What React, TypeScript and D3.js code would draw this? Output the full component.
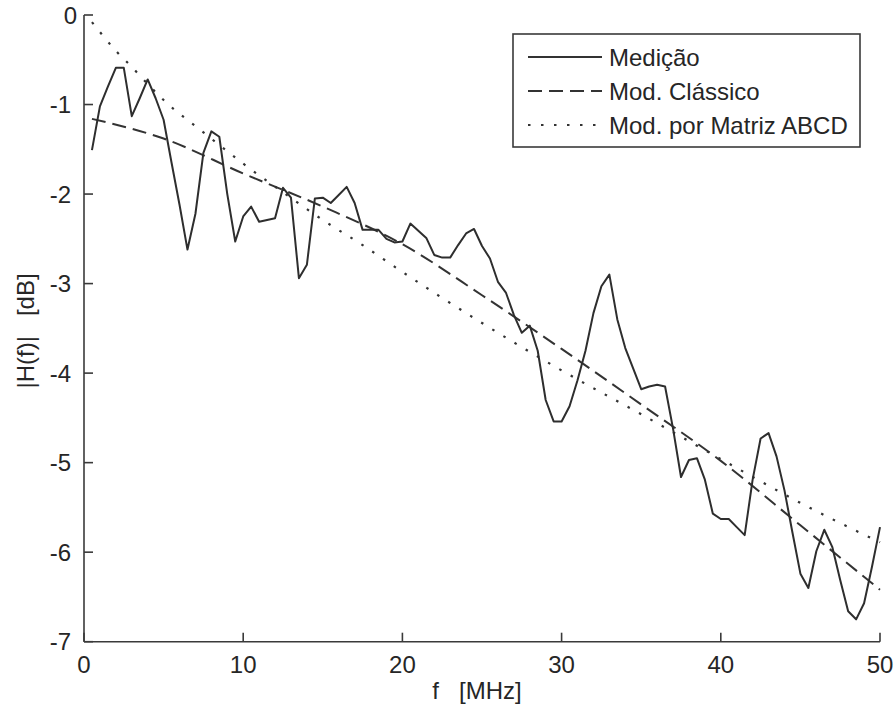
import React from 'react';
import * as d3 from 'd3';

// ---- Data ----
const measuredFreq = [
  0.5, 1, 1.5, 2, 2.5, 3, 3.5, 4, 4.5, 5, 5.5, 6, 6.5, 7, 7.5, 8, 8.5, 9, 9.5, 10,
  10.5, 11, 11.5, 12, 12.5, 13, 13.5, 14, 14.5, 15, 15.5, 16, 16.5, 17, 17.5, 18, 18.5, 19, 19.5, 20,
  20.5, 21, 21.5, 22, 22.5, 23, 23.5, 24, 24.5, 25, 25.5, 26, 26.5, 27, 27.5, 28, 28.5, 29, 29.5, 30,
  30.5, 31, 31.5, 32, 32.5, 33, 33.5, 34, 34.5, 35, 35.5, 36, 36.5, 37, 37.5, 38, 38.5, 39, 39.5, 40,
  40.5, 41, 41.5, 42, 42.5, 43, 43.5, 44, 44.5, 45, 45.5, 46, 46.5, 47, 47.5, 48, 48.5, 49, 49.5, 50,
];
const measuredDb = [
  -1.51, -1.02, -0.8, -0.59, -0.59, -1.13, -0.93, -0.72, -0.93, -1.17, -1.65, -2.12, -2.62, -2.22, -1.54, -1.3, -1.36, -2.0, -2.53, -2.25,
  -2.14, -2.31, -2.29, -2.27, -1.93, -2.04, -2.94, -2.79, -2.05, -2.04, -2.1, -2.01, -1.92, -2.1, -2.4, -2.4, -2.4, -2.5, -2.54, -2.53,
  -2.33, -2.41, -2.49, -2.68, -2.71, -2.71, -2.57, -2.44, -2.39, -2.58, -2.72, -2.98, -3.1, -3.35, -3.55, -3.47, -3.75, -4.3, -4.54, -4.54,
  -4.37, -4.08, -3.75, -3.33, -3.03, -2.9, -3.4, -3.72, -3.95, -4.18, -4.15, -4.13, -4.15, -4.62, -5.16, -4.97, -4.95, -5.19, -5.57, -5.63,
  -5.63, -5.72, -5.81, -5.19, -4.73, -4.67, -4.93, -5.31, -5.78, -6.24, -6.4, -5.99, -5.75, -5.94, -6.31, -6.66, -6.75, -6.57, -6.16, -5.72,
];

const classicFreq = [0.5, 5, 10, 15, 20, 25, 30, 35, 40, 45, 50];
const classicDb = [-1.16, -1.38, -1.77, -2.14, -2.56, -3.13, -3.73, -4.35, -4.98, -5.7, -6.42];

const abcdFreq = [0.5, 1, 2, 3, 4, 5, 7.5, 10, 12.5, 15, 17.5, 20, 25, 30, 35, 40, 45, 50];
const abcdDb = [-0.08, -0.19, -0.4, -0.58, -0.77, -0.95, -1.31, -1.66, -1.98, -2.29, -2.57, -2.87, -3.44, -3.97, -4.46, -4.96, -5.45, -5.89];

const xTicks = [0, 10, 20, 30, 40, 50];
const yTicks = [0, -1, -2, -3, -4, -5, -6, -7];
const legendLabels = ['Medição', 'Mod. Clássico', 'Mod. por Matriz ABCD'];
const xLabel = 'f   [MHz]';
const yLabel = '|H(f)|   [dB]';

// ---- Layout ----
const W = 896;
const H = 708;
const X0 = 84;
const X1 = 880;
const Y0 = 641.7;
const Y1 = 15;
const FONT = "'Liberation Sans', Arial, Helvetica, sans-serif";
const INK = '#262626';
const AXIS = '#3a3a3a';
const FS = 24;

const dashStyles = ['none', '14,7', '2.5,10.5'];

export default function App() {
  const x = d3.scaleLinear().domain([0, 50]).range([X0, X1]);
  const y = d3.scaleLinear().domain([-7, 0]).range([Y0, Y1]);

  const lin = d3
    .line<[number, number]>()
    .x((d) => x(d[0]))
    .y((d) => y(d[1]));
  const smooth = d3
    .line<[number, number]>()
    .x((d) => x(d[0]))
    .y((d) => y(d[1]))
    .curve(d3.curveMonotoneX);

  const measured = lin(measuredFreq.map((f, i) => [f, measuredDb[i]] as [number, number])) || '';
  const classic = smooth(classicFreq.map((f, i) => [f, classicDb[i]] as [number, number])) || '';
  const abcd = smooth(abcdFreq.map((f, i) => [f, abcdDb[i]] as [number, number])) || '';

  const legX = 513;
  const legY = 34;
  const legW = 347;
  const legH = 113;
  const rowY = [57, 91, 125];

  return (
    <svg
      width={W}
      height={H}
      viewBox={`0 0 ${W} ${H}`}
      style={{ position: 'absolute', left: 0, top: 0, background: '#fff' }}
      fontFamily={FONT}
    >
      <rect x={0} y={0} width={W} height={H} fill="#fff" />

      {/* data lines */}
      <path d={abcd} fill="none" stroke="#333" strokeWidth={2.2} strokeDasharray={dashStyles[2]} />
      <path d={classic} fill="none" stroke="#333" strokeWidth={2} strokeDasharray={dashStyles[1]} />
      <path d={measured} fill="none" stroke="#2e2e2e" strokeWidth={2} strokeLinejoin="round" />

      {/* axes */}
      <line x1={X0} y1={Y1} x2={X0} y2={Y0} stroke={AXIS} strokeWidth={1.6} />
      <line x1={X0} y1={Y0} x2={X1} y2={Y0} stroke={AXIS} strokeWidth={1.6} />
      {yTicks.map((t, i) => (
        <g key={'y' + t}>
          <line x1={X0} x2={X0 + 9} y1={y(t)} y2={y(t)} stroke={AXIS} strokeWidth={1.6} />
          <text
            x={i === 0 ? 77 : 71}
            y={y(t)}
            dy="0.36em"
            textAnchor="end"
            fontSize={FS}
            fill={INK}
          >
            {t}
          </text>
        </g>
      ))}
      {xTicks.map((t) => (
        <g key={'x' + t}>
          <line x1={x(t)} x2={x(t)} y1={Y0} y2={Y0 - 9} stroke={AXIS} strokeWidth={1.6} />
          <text x={x(t)} y={673} textAnchor="middle" fontSize={FS} fill={INK}>
            {t}
          </text>
        </g>
      ))}

      {/* axis labels */}
      <text
        x={477}
        y={699}
        textAnchor="middle"
        fontSize={FS}
        fill={INK}
        style={{ whiteSpace: 'pre' }}
      >
        {xLabel}
      </text>
      <text
        transform="translate(34,331) rotate(-90)"
        x={0}
        y={0}
        textAnchor="middle"
        fontSize={FS}
        fill={INK}
        style={{ whiteSpace: 'pre' }}
      >
        {yLabel}
      </text>

      {/* legend */}
      <rect x={legX} y={legY} width={legW} height={legH} fill="#fff" stroke={AXIS} strokeWidth={1.6} />
      {legendLabels.map((lab, i) => (
        <g key={lab}>
          <line
            x1={528}
            x2={602}
            y1={rowY[i]}
            y2={rowY[i]}
            stroke="#333"
            strokeWidth={i === 2 ? 2.2 : 2}
            strokeDasharray={dashStyles[i]}
          />
          <text x={609} y={rowY[i]} dy="0.36em" fontSize={FS} fill={INK}>
            {lab}
          </text>
        </g>
      ))}
    </svg>
  );
}
